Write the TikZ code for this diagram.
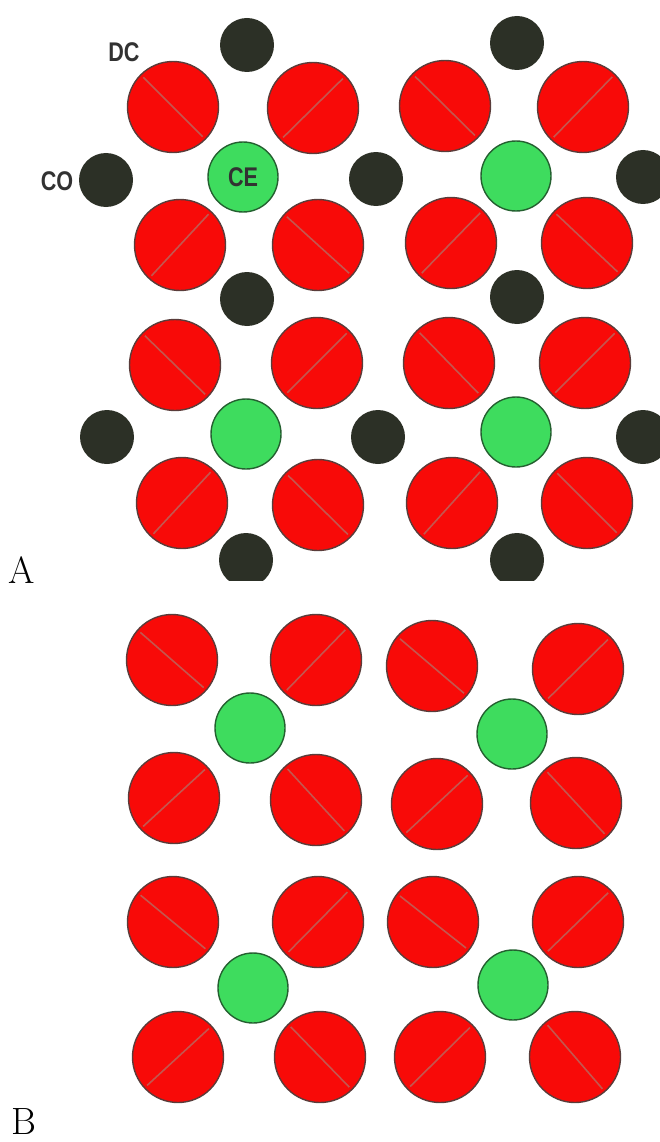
\documentclass[tikz,border=0pt]{standalone}
\usepackage{fontspec}
\newfontfamily\lblfont{Liberation Sans}
\usetikzlibrary{calc}

\definecolor{ballred}{RGB}{248,10,8}
\definecolor{rimgray}{RGB}{90,60,58}
\definecolor{cutred}{RGB}{196,86,78}
\definecolor{ballgreen}{RGB}{62,220,94}
\definecolor{rimgreen}{RGB}{36,96,48}
\definecolor{balldark}{RGB}{44,48,38}
\definecolor{lbl}{RGB}{50,50,50}

\begin{document}
\begin{tikzpicture}[x=1pt, y=-1pt,
    redball/.style={circle, fill=ballred, draw=rimgray, line width=1.4pt,
      minimum size=91pt, inner sep=0pt},
    greenball/.style={circle, fill=ballgreen, draw=rimgreen, line width=1.4pt,
      minimum size=70pt, inner sep=0pt, text=lbl,
      font=\lblfont\bfseries\fontsize{27}{27}\selectfont},
    darkball/.style={circle, fill=balldark, minimum size=54pt, inner sep=0pt},
    cut/.style={draw=cutred, line width=1.6pt},
    tag/.style={font=\lblfont\bfseries\fontsize{27}{27}\selectfont,
      text=lbl, inner sep=0pt},
    panel/.style={font=\fontsize{38}{40}\selectfont, inner sep=0pt}]
  \useasboundingbox (0,0) rectangle (660,1142);

  % [A] 版本
  \begin{scope}
    \clip (35,8) rectangle (660,580);

    % 黑色小球
    \foreach \k/\x/\y in {1/247/45, 2/106/180, 3/376/179, 4/247/299,
      5/517/43, 6/643/177, 7/517/297, 8/107/437, 9/378/437, 10/643/437,
      11/246/560, 12/517/560}
      \node[darkball] (co\k) at (\x,\y) {};

    % 左上一组
    \node[greenball] (ce1) at (243,177) {\scalebox{0.8}[1]{CE}};
    \foreach \k/\x/\y in {1/173/107, 2/313/108, 3/180/245, 4/318/245} {
      \node[redball] (ce1r\k) at (\x,\y) {};
      \draw[cut] ($(ce1r\k)!42pt!(ce1)$) -- ($(ce1r\k)!-42pt!(ce1)$);
    }

    % 右上一组
    \node[greenball] (ce2) at (516,176) {};
    \foreach \k/\x/\y in {1/445/106, 2/583/107, 3/451/243, 4/587/243} {
      \node[redball] (ce2r\k) at (\x,\y) {};
      \draw[cut] ($(ce2r\k)!42pt!(ce2)$) -- ($(ce2r\k)!-42pt!(ce2)$);
    }

    % 左下一组
    \node[greenball] (ce3) at (246,434) {};
    \foreach \k/\x/\y in {1/175/365, 2/317/363, 3/182/503, 4/318/505} {
      \node[redball] (ce3r\k) at (\x,\y) {};
      \draw[cut] ($(ce3r\k)!42pt!(ce3)$) -- ($(ce3r\k)!-42pt!(ce3)$);
    }

    % 右下一组
    \node[greenball] (ce4) at (516,432) {};
    \foreach \k/\x/\y in {1/449/363, 2/585/363, 3/452/503, 4/587/503} {
      \node[redball] (ce4r\k) at (\x,\y) {};
      \draw[cut] ($(ce4r\k)!42pt!(ce4)$) -- ($(ce4r\k)!-42pt!(ce4)$);
    }

    % 标签
    \node[tag] (dc) at (124,52) {\scalebox{0.8}[1]{DC}};
    \node[tag] (co) at (57,181) {\scalebox{0.8}[1]{CO}};
  \end{scope}
  \node[panel] (pa) at (22,570) {A};

  % [B] 版本
  \begin{scope}
    % 左上一组
    \node[greenball] (ge1) at (250,728) {};
    \foreach \k/\x/\y in {1/172/660, 2/316/660, 3/174/798, 4/316/800} {
      \node[redball] (ge1r\k) at (\x,\y) {};
      \draw[cut] ($(ge1r\k)!42pt!(ge1)$) -- ($(ge1r\k)!-42pt!(ge1)$);
    }

    % 右上一组
    \node[greenball] (ge2) at (512,734) {};
    \foreach \k/\x/\y in {1/432/666, 2/578/669, 3/437/804, 4/576/803} {
      \node[redball] (ge2r\k) at (\x,\y) {};
      \draw[cut] ($(ge2r\k)!42pt!(ge2)$) -- ($(ge2r\k)!-42pt!(ge2)$);
    }

    % 左下一组
    \node[greenball] (ge3) at (253,988) {};
    \foreach \k/\x/\y in {1/173/922, 2/318/922, 3/178/1057, 4/320/1057} {
      \node[redball] (ge3r\k) at (\x,\y) {};
      \draw[cut] ($(ge3r\k)!42pt!(ge3)$) -- ($(ge3r\k)!-42pt!(ge3)$);
    }

    % 右下一组
    \node[greenball] (ge4) at (513,985) {};
    \foreach \k/\x/\y in {1/433/922, 2/578/922, 3/440/1057, 4/575/1057} {
      \node[redball] (ge4r\k) at (\x,\y) {};
      \draw[cut] ($(ge4r\k)!42pt!(ge4)$) -- ($(ge4r\k)!-42pt!(ge4)$);
    }
  \end{scope}
  \node[panel] (pb) at (24,1122) {B};
\end{tikzpicture}
\end{document}
